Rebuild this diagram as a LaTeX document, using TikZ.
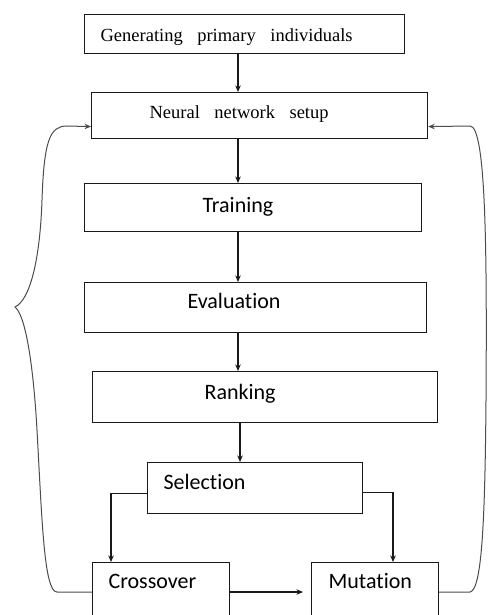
\documentclass[tikz,border=0pt]{standalone}
\usepackage{fontspec}
\setmainfont{Carlito}[Ligatures={NoCommon}]
\newfontfamily\serifrm{Liberation Serif}
\usetikzlibrary{arrows.meta}

\tikzset{
  stage/.style={draw=black!90, line width=1.2pt, rectangle, anchor=north west,
    inner ysep=0pt, align=left, font=\fontsize{22}{26}\selectfont},
  oldstage/.style={stage, font={\serifrm\fontsize{18.5}{22}\selectfont},
    execute at begin node={\spaceskip=14.5pt\relax}},
  flow/.style={->, line width=1.1pt, black!90},
  loopback/.style={->, line width=1pt, black!70},
}

\begin{document}
\begin{tikzpicture}[x=1pt, y=-1pt, >={Stealth[length=6.5pt, width=5.5pt]}]
    \useasboundingbox (0,0) rectangle (489,615);
    \clip (0,0) rectangle (489,615);

    \coordinate (spine) at (238,0);

    \node [oldstage, text width=288pt, inner xsep=16pt, text height=26.5pt, text depth=12.5pt] (gen) at (84,14) {Generating primary individuals};
    \node [oldstage, text width=220pt, inner xsep=58pt, text height=26.3pt, text depth=19.7pt] (neural) at (91,92) {Neural network setup};
    \node [stage, text width=101pt, inner xsep=118pt, text height=28.7pt, text depth=19.3pt] (training) at (84,183) {Training};
    \node [stage, text width=136pt, inner xsep=103pt, text height=26.3pt, text depth=23.7pt] (evaluation) at (84,282) {Evaluation};
    \node [stage, text width=121pt, inner xsep=112pt, text height=28.3pt, text depth=22.7pt] (ranking) at (92,371) {Ranking};
    \node [stage, text width=183pt, inner xsep=16pt, text height=27.3pt, text depth=23.7pt] (selection) at (147,462) {Selection};
    \node [stage, text width=105pt, inner xsep=16pt, text height=26.3pt, text depth=53.7pt] (crossover) at (92,562) {Crossover};
    \node [stage, text width=93pt, inner xsep=17pt, text height=26.3pt, text depth=53.7pt] (mutation) at (311,562) {Mutation};

    % main chain
    \draw [flow] (gen.south -| spine) -- (neural.north -| spine);
    \draw [flow] (neural.south -| spine) -- (training.north -| spine);
    \draw [flow] (training.south -| spine) -- (evaluation.north -| spine);
    \draw [flow] (evaluation.south -| spine) -- (ranking.north -| spine);
    \draw [flow] ([xshift=2pt]ranking.south -| spine) -- ([xshift=2pt]selection.north -| spine);

    % selection splits
    \draw [flow] ([yshift=-5.5pt]selection.west) -| ([xshift=19pt]crossover.north west);
    \draw [flow] ([yshift=-4.5pt]selection.east) -| ([xshift=82pt]mutation.north west);
    \draw [flow, shorten >=8pt] ([yshift=-30pt]crossover.north east) -- ([yshift=-30pt]mutation.north west);

    % back to the network setup
    \draw [loopback] ([yshift=-30pt]crossover.north west) -- (57,592)
      .. controls (44,592) and (42,520) .. (37,430)
      .. controls (33,360) and (25,315) .. (15,307)
      .. controls (30,300) and (40,260) .. (42,200)
      .. controls (44,140) and (50,126) .. (67,126) -- ([yshift=-11pt]neural.west);
    \draw [loopback] ([yshift=-30pt]mutation.north east) -- (470,592)
      .. controls (482,590) and (485,520) .. (486,400)
      .. controls (487,250) and (486,126) .. (470,126) -- ([yshift=-11pt]neural.east);
\end{tikzpicture}
\end{document}
